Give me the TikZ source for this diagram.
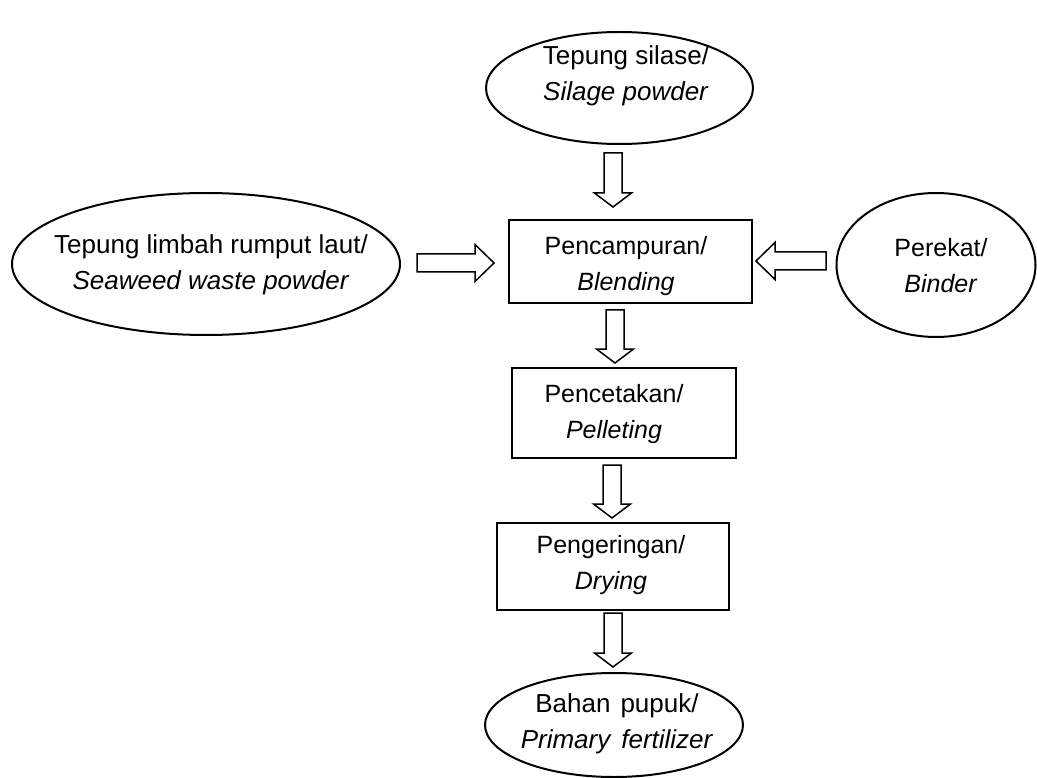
\documentclass[tikz,border=0pt]{standalone}
\usepackage{fontspec}
\setmainfont{Liberation Sans}
\usetikzlibrary{shapes.geometric,calc}
\tikzset{
  shapeline/.style={draw=black, line width=2pt},
  ellip/.style={shapeline, ellipse, inner sep=0pt},
  procbox/.style={shapeline, rectangle, inner sep=0pt},
  txt/.style={align=center, inner sep=0pt, font=\fontsize{25}{36}\selectfont},
  etxt/.style={align=center, inner sep=0pt, font=\fontsize{26}{36}\selectfont},
  barrow/.style={draw=black, line width=1.5pt, fill=white, line join=miter},
}
% vertical block arrow: from (#1) down to tip (#2)
\newcommand\vblock[2]{%
  \draw[barrow] let \p1=(#1), \p2=(#2) in
    (\x1-9pt,\y1) -- (\x1+9pt,\y1) -- (\x1+9pt,\y2+14pt) -- (\x1+18.5pt,\y2+14pt)
    -- (\x1,\y2) -- (\x1-18.5pt,\y2+14pt) -- (\x1-9pt,\y2+14pt) -- cycle;}
% horizontal block arrow: from (#1) to tip (#2)
\newcommand\hblock[2]{%
  \draw[barrow] let \p1=(#1), \p2=(#2), \n1={sign(\x2-\x1)} in
    (\x1,\y1-9pt) -- (\x1,\y1+9pt) -- (\x2-\n1*19pt,\y1+9pt) -- (\x2-\n1*19pt,\y1+18.5pt)
    -- (\x2,\y1) -- (\x2-\n1*19pt,\y1-18.5pt) -- (\x2-\n1*19pt,\y1-9pt) -- cycle;}
\begin{document}
\begin{tikzpicture}[x=1pt,y=-1pt]
\useasboundingbox (0,0) rectangle (1037,778);
% shapes
\node[ellip, minimum width=267pt, minimum height=112pt] (silage) at (619.5,88) {};
\node[ellip, minimum width=388pt, minimum height=142pt] (waste) at (206,264) {};
\node[ellip, minimum width=199pt, minimum height=144pt] (binder) at (936,265) {};
\node[procbox, minimum width=243pt, minimum height=83pt] (blend) at (630.5,261.5) {};
\node[procbox, minimum width=224pt, minimum height=90pt] (pellet) at (624,413) {};
\node[procbox, minimum width=232pt, minimum height=87pt] (dry) at (613,566.5) {};
\node[ellip, minimum width=258pt, minimum height=104pt] (fert) at (614,725) {};
% texts
\node[etxt] (silagetxt) at (626,76) {Tepung silase/\\\textit{Silage powder}};
\node[etxt] (wastetxt) at (211,265) {Tepung limbah rumput laut/\\\textit{Seaweed waste powder}};
\node[txt] (bindertxt) at (941,266) {Perekat/\\\textit{Binder}};
\node[txt] (blendtxt) at (626,266) {Pencampuran/\\\textit{Blending}};
\node[txt] (pellettxt) at (614,414) {Pencetakan/\\\textit{Pelleting}};
\node[txt] (drytxt) at (611,565) {Pengeringan/\\\textit{Drying}};
\node[etxt] (ferttxt) at (617,724) {Bahan\hspace{10pt}pupuk/\\\textit{Primary\hspace{11pt}fertilizer}};
% arrow ends
\coordinate (a1s) at (613,153); \coordinate (a1e) at (613,207);
\coordinate (a2s) at (615,310); \coordinate (a2e) at (615,363);
\coordinate (a3s) at (612,465); \coordinate (a3e) at (612,518);
\coordinate (a4s) at (613,613); \coordinate (a4e) at (613,667);
\coordinate (a5s) at (417,263); \coordinate (a5e) at (494,263);
\coordinate (a6s) at (826,261); \coordinate (a6e) at (756,261);
\vblock{a1s}{a1e}
\vblock{a2s}{a2e}
\vblock{a3s}{a3e}
\vblock{a4s}{a4e}
\hblock{a5s}{a5e}
\hblock{a6s}{a6e}
\end{tikzpicture}
\end{document}
